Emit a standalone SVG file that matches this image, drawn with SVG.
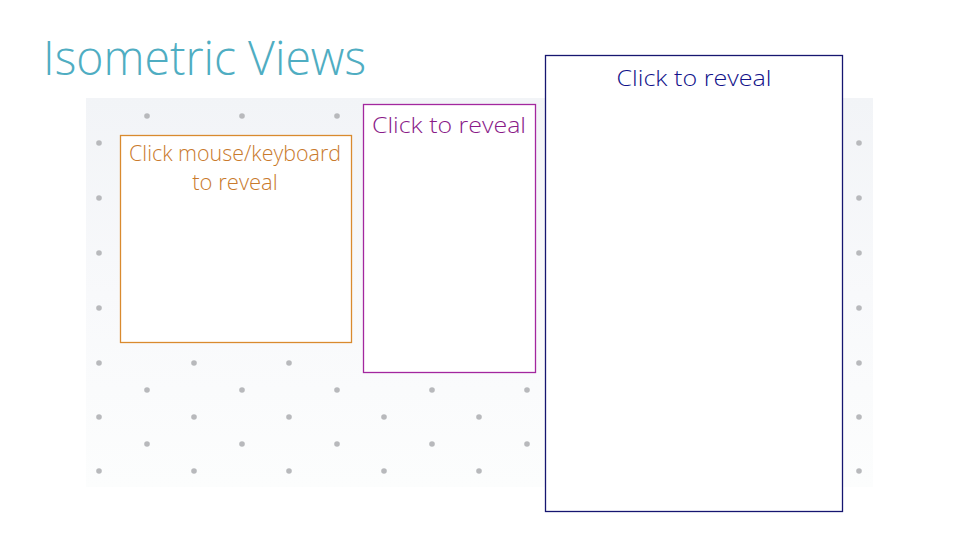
<svg xmlns="http://www.w3.org/2000/svg" width="960" height="540" viewBox="0 0 960 540">
  <defs>
    <linearGradient id="panelGrad" x1="0" y1="0" x2="0" y2="1">
      <stop offset="0" stop-color="#f2f4f7"/>
      <stop offset="0.5" stop-color="#f8f9fb"/>
      <stop offset="1" stop-color="#fcfdfd"/>
    </linearGradient>
    <circle id="dot" r="2.8" fill="#b8b9bc"/>
  </defs>
  <style>
    .lbl { font-family: "Open Sans", "Liberation Sans", sans-serif; font-weight: 300; font-size: 22px; text-anchor: middle; }
    .box { fill: #ffffff; stroke-width: 1.3; }
  </style>
  <rect width="960" height="540" fill="#ffffff"/>
  <text x="43" y="75" font-family="Open Sans, Liberation Sans, sans-serif" font-weight="300" font-size="47" fill="#4fadc2" textLength="323" lengthAdjust="spacingAndGlyphs">Isometric Views</text>

  <g id="grid">
    <rect x="86" y="98" width="787" height="389" fill="url(#panelGrad)"/>
    <!-- odd rows -->
    <g>
      <use href="#dot" x="147" y="116"/><use href="#dot" x="242" y="116"/><use href="#dot" x="337" y="116"/><use href="#dot" x="432" y="116"/><use href="#dot" x="527" y="116"/>
      <use href="#dot" x="147" y="390"/><use href="#dot" x="242" y="390"/><use href="#dot" x="337" y="390"/><use href="#dot" x="432" y="390"/><use href="#dot" x="527" y="390"/>
      <use href="#dot" x="147" y="444"/><use href="#dot" x="242" y="444"/><use href="#dot" x="337" y="444"/><use href="#dot" x="432" y="444"/><use href="#dot" x="527" y="444"/>
    </g>
    <!-- even rows -->
    <g>
      <use href="#dot" x="99" y="143"/><use href="#dot" x="859" y="143"/>
      <use href="#dot" x="99" y="198"/><use href="#dot" x="859" y="198"/>
      <use href="#dot" x="99" y="253"/><use href="#dot" x="859" y="253"/>
      <use href="#dot" x="99" y="308"/><use href="#dot" x="859" y="308"/>
      <use href="#dot" x="99" y="363"/><use href="#dot" x="194" y="363"/><use href="#dot" x="289" y="363"/><use href="#dot" x="859" y="363"/>
      <use href="#dot" x="99" y="417"/><use href="#dot" x="194" y="417"/><use href="#dot" x="289" y="417"/><use href="#dot" x="384" y="417"/><use href="#dot" x="479" y="417"/><use href="#dot" x="859" y="417"/>
      <use href="#dot" x="99" y="471"/><use href="#dot" x="194" y="471"/><use href="#dot" x="289" y="471"/><use href="#dot" x="384" y="471"/><use href="#dot" x="479" y="471"/><use href="#dot" x="859" y="471"/>
    </g>
  </g>

  <g id="box-orange">
    <rect class="box" x="120.5" y="135.5" width="231" height="207" stroke="#d98a2e"/>
    <text class="lbl" x="235" y="161" fill="#c97a2c" textLength="212" lengthAdjust="spacingAndGlyphs">Click mouse/keyboard</text>
    <text class="lbl" x="235" y="190" fill="#c97a2c">to reveal</text>
  </g>

  <g id="box-magenta">
    <rect class="box" x="363.5" y="104.5" width="172" height="268" stroke="#a3279e"/>
    <text class="lbl" x="449" y="133" fill="#8a1a88" font-size="24" textLength="154" lengthAdjust="spacingAndGlyphs">Click to reveal</text>
  </g>

  <g id="box-blue">
    <rect class="box" x="545.5" y="55.5" width="297" height="456" stroke="#161670" stroke-width="1.4"/>
    <text class="lbl" x="694" y="86" fill="#12128a" font-size="24" textLength="155" lengthAdjust="spacingAndGlyphs">Click to reveal</text>
  </g>
</svg>
